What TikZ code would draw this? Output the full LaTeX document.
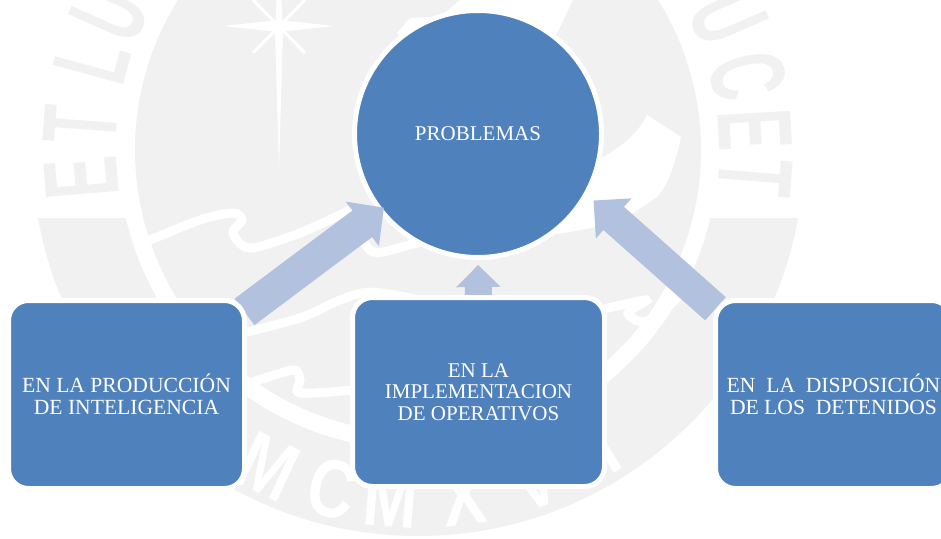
\documentclass[tikz,border=0pt]{standalone}
\usepackage{fontspec}
\setmainfont{Liberation Serif}
\newfontfamily\selloFont{Liberation Sans}
\usetikzlibrary{arrows, arrows.meta}
\usetikzlibrary{calc}
\definecolor{azul}{HTML}{4F81BD}
\definecolor{flecha}{HTML}{B2C1DD}
\definecolor{sello}{HTML}{F1F1F1}
\pgfdeclarelayer{fondo}
\pgfdeclarelayer{medio}
\pgfsetlayers{fondo,medio,main}
\tikzset{
  bloque/.style={fill=azul, draw=white, line width=5pt, inner sep=0pt, outer sep=0pt, text=white, align=center, font={\fontsize{21}{21.7}\selectfont}},
  caja/.style={bloque, rounded corners=20pt, minimum width=236pt, minimum height=188pt},
  cajaAncha/.style={caja, font={\fontsize{21.6}{21.7}\selectfont}},
  flechaAncha/.style={flecha, line width=33pt, -{Triangle[length=27pt,width=54pt]}},
  ola/.style={white, line width=9pt, line cap=round},
  letra/.style={font={\selloFont\bfseries\fontsize{106}{106}\selectfont}, text=sello, inner sep=0pt, xscale=0.58, transform shape},
  letraBaja/.style={font={\selloFont\bfseries\fontsize{82}{82}\selectfont}, text=white, inner sep=0pt, xscale=0.8, transform shape}
}
\begin{document}
\begin{tikzpicture}[x=1pt, y=-1pt]
  \useasboundingbox (0,0) rectangle (941,538);
  \coordinate (centroSello) at (418,150);
  \begin{pgfonlayer}{fondo}
    % sello
    \fill [sello] (centroSello) circle (283);
    \begin{scope}
      \clip (0,218) rectangle (941,538);
      \fill [sello, even odd rule] (centroSello) circle (386) (centroSello) circle (300);
    \end{scope}
    \foreach \ch/\ang in {E/175.3,T/184.2,L/195.3,U/204,L/-34,U/-23.3,C/-12.7,E/-3.4,T/4.7}
    {
      \node [rotate={-(\ang+90)}, letra] (sello\ch) at ($(centroSello)+(\ang:338)$) {\ch};
    }
    \foreach \ch/\ang in {M/115.3,C/104.2,M/94.5,X/82.5,V/70.5,I/62,I/58}
    {
      \node [rotate={90-\ang}, letraBaja] (baja\ch) at ($(centroSello)+(\ang:350)$) {\ch};
    }
    % estrella
    \fill [white] (279,170) -- (275,30) -- (277,-10) -- (281,-10) -- (283,30) -- cycle;
    \fill [white] (223,26) -- (279,20) -- (334,26) -- (279,32) -- cycle;
    \draw [white, line width=3pt] (253,53) -- (305,0);
    \draw [white, line width=3pt] (305,53) -- (253,0);
    % olas
    \draw [ola] plot [smooth] coordinates {(143,243) (200,220) (233,213) (242,220) (233,233) (250,248) (300,233) (350,210)};
    \draw [ola] plot [smooth] coordinates {(350,210) (367,247) (383,252) (433,240) (553,230) (620,217)};
    \draw [ola] plot [smooth] coordinates {(235,335) (300,318) (340,300) (371,292) (420,300)};
    \draw [ola] plot [smooth] coordinates {(600,310) (646,300) (628,313) (643,322) (664,310) (690,285)};
    \draw [ola] plot [smooth] coordinates {(250,383) (293,370) (300,380) (300,393) (353,390)};
    \fill [white] (603,157) .. controls (625,145) and (640,130) .. (647,115) -- (681,137) .. controls (675,165) and (668,185) .. (657,197) -- (633,213) -- (570,227) -- (478,134) -- cycle;
    \fill [white] (397,33) -- (410,18) -- (440,17) -- (460,0) -- (573,0) -- (557,33) -- (478,134) -- cycle;
    % circulo
    \node [bloque, circle, minimum size=247pt] (problemas) at (478,134) {PROBLEMAS};
  \end{pgfonlayer}
  \node [cajaAncha] (cajaIzq) at (126.5,394.5) {EN LA PRODUCCIÓN\\DE INTELIGENCIA};
  \node [caja, minimum width=252pt, minimum height=189pt] (cajaCentro) at (478.5,392) {EN LA\\IMPLEMENTACION\\DE OPERATIVOS};
  \node [cajaAncha] (cajaDer) at (833.5,394.5) {EN\ \ LA\ \ DISPOSICIÓN\\DE LOS\ \ DETENIDOS};
  \begin{pgfonlayer}{medio}
    \draw [flechaAncha, shorten >=-4pt] (cajaIzq.35) -- (problemas.218);
    \draw [flechaAncha, line width=27pt, -{Triangle[length=22pt,width=43pt]}, shorten >=7.5pt] (cajaCentro.north) -- (problemas.south);
    \draw [flechaAncha, line width=31pt, -{Triangle[length=27pt,width=52pt]}, shorten >=10pt] (cajaDer.144) -- (problemas.-29);
  \end{pgfonlayer}
\end{tikzpicture}
\end{document}
